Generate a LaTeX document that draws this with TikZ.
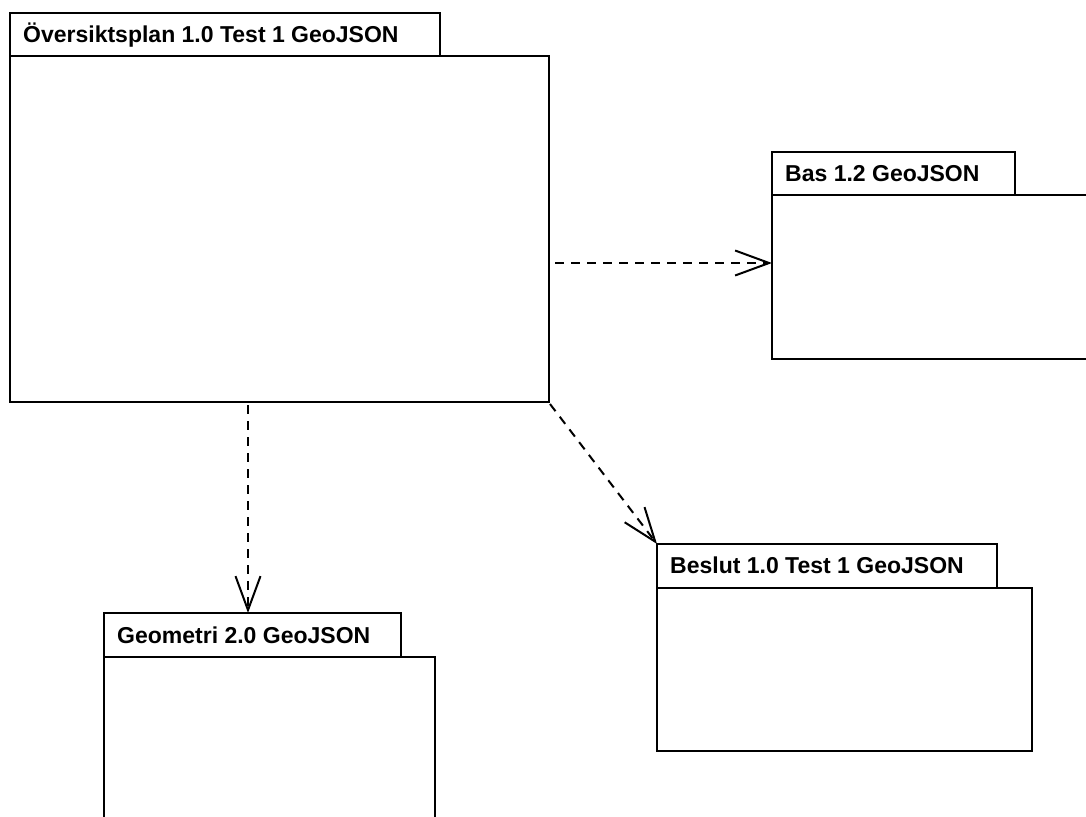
\documentclass[tikz,border=0pt]{standalone}
\usepackage{fontspec}
\setmainfont{Liberation Sans}
\usetikzlibrary{arrows.meta,calc}
\begin{document}
\begin{tikzpicture}[x=1pt,y=-1pt,
  pkgtab/.style={draw,line width=2pt,inner sep=0pt,outer sep=0pt,anchor=north west,fill=white},
  pkgbody/.style={draw,line width=2pt,inner sep=0pt,outer sep=0pt,anchor=north west,fill=white},
  pkglabel/.style={anchor=base west,inner sep=0pt,font=\fontsize{23pt}{27pt}\selectfont\bfseries},
  dep/.style={line width=2pt,dash pattern=on 9pt off 7pt,-{Straight Barb[length=34pt,width=25pt,line width=2pt]}}]
\useasboundingbox (0,0) rectangle (1086,816);
% Översiktsplan
\node[pkgtab,minimum width=430pt,minimum height=43pt] (ovtab) at (10,13) {};
\node[pkgbody,minimum width=539pt,minimum height=346pt] (ov) at (10,56) {};
\node[pkglabel] (ovlbl) at ($(ovtab.north west)+(13,29)$) {Översiktsplan 1.0 Test 1 GeoJSON};
% Bas
\node[pkgtab,minimum width=243pt,minimum height=43pt] (bastab) at (772,152) {};
\node[pkgbody,minimum width=330pt,minimum height=164pt] (bas) at (772,195) {};
\node[pkglabel] (baslbl) at ($(bastab.north west)+(13,29)$) {Bas 1.2 GeoJSON};
% Geometri
\node[pkgtab,minimum width=297pt,minimum height=44pt] (geotab) at (104,613) {};
\node[pkgbody,minimum width=331pt,minimum height=180pt] (geo) at (104,657) {};
\node[pkglabel] (geolbl) at ($(geotab.north west)+(13,30)$) {Geometri 2.0 GeoJSON};
% Beslut
\node[pkgtab,minimum width=340pt,minimum height=44pt] (beltab) at (657,544) {};
\node[pkgbody,minimum width=375pt,minimum height=163pt] (bel) at (657,588) {};
\node[pkglabel] (bellbl) at ($(beltab.north west)+(13,29)$) {Beslut 1.0 Test 1 GeoJSON};
% dependencies
\coordinate (a1) at (772,263);
\draw[dep] ($(ov.east |- a1)+(6,0)$) -- (bas.west |- a1);
\coordinate (a2) at (248,0);
\draw[dep] ($(ov.south -| a2)+(0,3)$) -- (geotab.north -| a2);
\draw[dep] ($(ov.south east)+(1,2)$) -- (beltab.north west);
\end{tikzpicture}
\end{document}
